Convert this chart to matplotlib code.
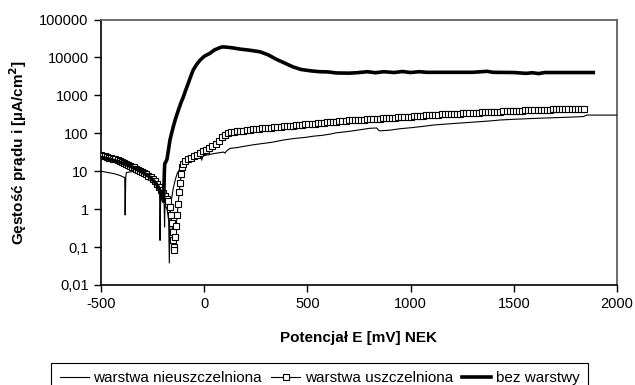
import matplotlib
matplotlib.use("Agg")
import matplotlib.pyplot as plt
from matplotlib.ticker import FixedLocator, FixedFormatter, NullLocator

plt.rcParams['font.family'] = ['Liberation Sans', 'DejaVu Sans']
plt.rcParams['axes.unicode_minus'] = False

# ---- data (E in mV vs NEK, i in uA/cm2) ----
label_a = "warstwa nieuszczelniona"
label_b = "warstwa uszczelniona"
label_c = "bez warstwy"

E_a = [-500, -470, -440, -410, -385, -383, -380, -377, -360, -340, -320, -300, -280, -260,
       -240, -225, -216, -214, -211, -200, -194, -192, -190, -180, -172, -169, -166, -160,
       -150, -140, -130, -115, -100, -80, -60, -40, -25, -15, -12, -8, 0, 20, 44, 70, 93,
       100, 110, 125, 160, 200, 240, 286, 320, 350, 380, 420, 448, 490, 530, 570, 610, 640,
       700, 760, 800, 836, 845, 852, 900, 950, 1000, 1060, 1110, 1200, 1300, 1400, 1433,
       1500, 1595, 1700, 1800, 1837, 1853, 1950, 2000]
i_a = [10, 9.3, 8.7, 7.8, 6.8, 0.7, 6.9, 9.2, 9.6, 9.8, 9.2, 8.3, 7.2, 6.0,
       4.6, 3.4, 2.6, 0.15, 2.3, 1.8, 1.4, 0.34, 1.3, 1.0, 0.5, 0.038, 0.6, 1.6,
       3.5, 6, 9, 12, 15, 18, 20, 23, 25, 26, 19.5, 24, 26, 27, 29, 30.5, 32,
       30, 35, 40, 42, 46, 50, 54, 57, 61, 66, 71, 74, 78, 84, 88, 95, 103,
       112, 125, 135, 138, 120, 116, 121, 132, 140, 152, 165, 180, 196, 215, 224,
       234, 246, 258, 270, 276, 302, 302, 302]

E_b = [-500, -490, -480, -470, -460, -450, -440, -430, -420, -410, -400, -390, -380, -370,
       -360, -350, -340, -330, -320, -310, -300, -290, -280, -270, -260, -250, -240, -230,
       -220, -210, -200, -190, -182,
       -175, -168, -162, -157, -153, -149, -146, -144, -140, -136, -131,
       -126, -121, -116, -111, -106, -101, -95,
       -80, -65, -50, -35, -20, -5, 10, 25, 40, 55, 70, 85, 100, 115, 130, 145, 160, 175,
       190, 205, 220, 235, 250, 265, 280, 295, 310, 325, 340, 355, 370, 385, 400, 415, 430,
       445, 460, 475, 490, 505, 520, 535, 550, 565, 580, 595, 610, 625, 640, 655, 670, 685,
       700, 715, 730, 745, 760, 775, 790, 805, 820, 835, 850, 865, 880, 895, 910, 925, 940,
       955, 970, 985, 1000, 1015, 1030, 1045, 1060, 1075, 1090, 1105, 1120, 1135, 1150, 1165,
       1180, 1195, 1210, 1225, 1240, 1255, 1270, 1285, 1300, 1315, 1330, 1345, 1360, 1375,
       1390, 1405, 1420, 1435, 1450, 1465, 1480, 1495, 1510, 1525, 1540, 1555, 1570, 1585,
       1600, 1615, 1630, 1645, 1660, 1675, 1690, 1705, 1720, 1735, 1750, 1765, 1780, 1795,
       1810, 1825, 1840]
i_b = [26.3, 25.4, 24.5, 23.7, 22.9, 22.1, 21.4, 20.4, 19.5, 18.6, 17.8, 16.8, 15.8, 15.0,
       14.1, 13.3, 12.6, 11.7, 11.0, 10.2, 9.5, 8.9, 8.3, 7.7, 7.1, 6.3, 5.5, 4.6,
       3.8, 3.2, 2.6, 2.2, 1.9,
       1.6, 1.12, 0.71, 0.42, 0.25, 0.15, 0.1, 0.083, 0.18, 0.35, 0.71,
       1.4, 2.8, 5.0, 8.5, 12.6, 15.8, 18.6,
       20.4, 22.4, 24.5, 27.2, 30.2, 33.5, 37.2, 41.2, 45.7, 52.5, 63, 77.6, 91, 100, 105, 108, 112, 115,
       118, 121, 123, 126, 129, 132, 134, 137, 140, 141, 145, 147, 150, 152, 155, 157, 160,
       163, 166, 169, 172, 175, 178, 181, 184, 187, 191, 194, 197, 200, 204, 208, 211, 215,
       219, 221, 223, 225, 228, 230, 232, 235, 238, 240, 244, 247, 249, 253, 256, 259, 262,
       265, 269, 272, 275, 279, 283, 287, 291, 295, 299, 303, 306, 309, 313, 316,
       319, 322, 325, 328, 331, 333, 337, 340, 343, 347, 350, 354, 357, 361,
       365, 368, 372, 375, 378, 381, 385, 388, 391, 394, 398, 402, 405, 408,
       412, 414, 416, 418, 421, 423, 425, 427, 429, 431, 434, 436, 438, 440,
       443, 445, 447]

E_c = [-500, -450, -400, -350, -300, -260, -230, -210, -200, -197, -195, -193, -191, -185,
       -180, -172, -166, -158, -150, -138, -125, -113, -101, -89, -77, -65, -53, -36, -20,
       0, 28, 50, 77, 90, 110, 140, 173, 220, 270, 310, 350, 390, 431, 470, 520, 561, 600,
       640, 700, 740, 790, 830, 870, 920, 960, 1000, 1040, 1080, 1200, 1300, 1370, 1400,
       1500, 1560, 1590, 1620, 1650, 1750, 1885]
i_c = [23, 20, 16.6, 13, 9.5, 6.8, 4.5, 2.8, 2.0, 1.6, 3.5, 10, 16, 18,
       21, 40, 66, 100, 148, 250, 410, 630, 910, 1400, 2100, 3200, 4700, 6600, 8500,
       10700, 12900, 15800, 18200, 19000, 18600, 17800, 16600, 15500, 14100, 11700, 8900,
       7100, 5600, 4800, 4400, 4200, 4150,
       3900, 3850, 3950, 4200, 3950, 4200, 4000, 4250, 4000, 4200, 4050, 4050, 4050, 4300, 4050,
       4000, 3800, 3950, 3750, 4000, 4000, 4000]

x_ticks = [-500, 0, 500, 1000, 1500, 2000]
y_ticks = [0.01, 0.1, 1, 10, 100, 1000, 10000, 100000]
y_tick_labels = ["0,01", "0,1", "1", "10", "100", "1000", "10000", "100000"]
x_label = "Potencjał E [mV] NEK"
y_label = "Gęstość prądu i [µA/cm$^{\\mathbf{2}}$]"

# ---- figure ----
W, H = 635, 385
fig = plt.figure(figsize=(W / 100, H / 100), dpi=100)
ax = fig.add_axes([101 / W, 1 - 285 / H, (617 - 101) / W, (285 - 19.5) / H])

ax.plot(E_a, i_a, color='black', lw=0.8, label=label_a, zorder=3)
ax.plot(E_b, i_b, color='black', lw=0.8, marker='s', markersize=4.3,
        markerfacecolor='white', markeredgecolor='black', markeredgewidth=0.8,
        label=label_b, zorder=4)
ax.plot(E_c, i_c, color='black', lw=2.6, label=label_c, zorder=5,
        solid_joinstyle='round')

ax.set_yscale('log')
ax.set_xlim(-500, 2000)
ax.set_ylim(0.01, 100000)
ax.xaxis.set_major_locator(FixedLocator(x_ticks))
ax.yaxis.set_major_locator(FixedLocator(y_ticks))
ax.yaxis.set_major_formatter(FixedFormatter(y_tick_labels))
ax.yaxis.set_minor_locator(NullLocator())
ax.tick_params(axis='both', direction='out', length=5, width=1, labelsize=10.5,
               colors='black', pad=4)

for s in ['top', 'right']:
    ax.spines[s].set_color('#606060')
    ax.spines[s].set_linewidth(1.3)
for s in ['left', 'bottom']:
    ax.spines[s].set_color('black')
    ax.spines[s].set_linewidth(1.2)

ax.set_xlabel(x_label, fontsize=11, fontweight='bold', labelpad=14)
ax.set_ylabel(y_label, fontsize=11, fontweight='bold')
ax.yaxis.set_label_coords(-0.14, 0.5)

leg = fig.legend(loc='upper center', bbox_to_anchor=(319.5 / W, 1 - 362.5 / H),
                 ncol=3, fontsize=11, frameon=True, fancybox=False,
                 edgecolor='black', framealpha=1, handlelength=1.9,
                 handletextpad=0.3, columnspacing=0.6, borderpad=0.55,
                 borderaxespad=0)
leg.get_frame().set_linewidth(0.8)

fig.savefig('out.png', dpi=100)
